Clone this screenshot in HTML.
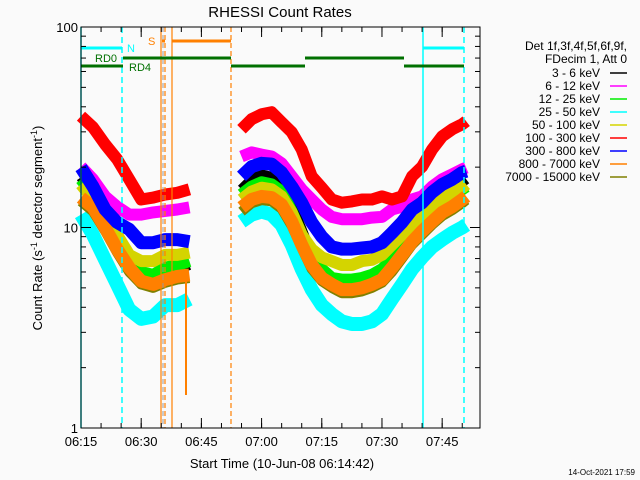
<!DOCTYPE html>
<html><head><meta charset="utf-8">
<style>
html,body{margin:0;padding:0;background:#fafafa;}
svg{display:block;font-family:"Liberation Sans",sans-serif;}
</style></head>
<body>
<svg id="chart" width="640" height="480" viewBox="0 0 640 480" xmlns="http://www.w3.org/2000/svg">
<rect x="0" y="0" width="640" height="480" fill="#fafafa"/>
<text x="280" y="17" font-size="15" text-anchor="middle" fill="#000">RHESSI Count Rates</text>
<g id="marks"></g>
<g id="annot"></g>
<g id="axes"></g>
<text transform="translate(42,228) rotate(-90)" font-size="13" text-anchor="middle" fill="#000">Count Rate (s<tspan dy="-5" font-size="9">-1</tspan><tspan dy="5"> detector segment</tspan><tspan dy="-5" font-size="9">-1</tspan><tspan dy="5">)</tspan></text>
<text x="282" y="468" font-size="13" text-anchor="middle" fill="#000">Start Time (10-Jun-08 06:14:42)</text>
<g id="legend"></g>
<text x="635" y="475" font-size="8" text-anchor="end" fill="#000">14-Oct-2021 17:59</text>
</svg>
<script>
// minutes after 06:15
const seg1Times = [0,3,6,9,12,15,18,21,24,27];
const seg2Times = [40,42.5,45,47.5,50,52.5,55,57.5,60,62.5,65,67.5,70,72.5,75,77.5,80,82.5,85,87.5,90,92.5,95,96];
const seriesNames = ["3 - 6 keV","6 - 12 keV","12 - 25 keV","25 - 50 keV","50 - 100 keV","100 - 300 keV","300 - 800 keV","800 - 7000 keV","7000 - 15000 keV"];
const seriesColors = ["#000000","#ff00ff","#00ee00","#00ffff","#d4d400","#ff0000","#0000ff","#ff8000","#808000"];
const black1 = [17.8,14.6,11.6,8.7,6.5,5.2,5.2,5.8,6.2,6.5];
const black2 = [15.5,17.4,18.4,17.9,16.4,13.0,9.8,7.3,6.2,5.5,5.3,5.3,5.5,5.6,6.0,6.8,7.8,9.2,10.3,12.0,13.8,15.5,16.8,17.4];
const magenta1 = [20.1,17.4,14.3,12.7,11.6,11.6,11.9,12.1,12.3,12.6];
const magenta2 = [22.6,23.7,23.1,22.6,20.9,18.0,15.5,13.8,12.3,11.3,11.0,11.0,11.0,11.2,11.3,12.3,12.7,13.8,14.3,16.0,17.4,18.4,19.5,19.9];
const green1 = [17.4,14.6,11.6,8.9,6.9,6.0,5.8,6.3,6.5,6.8];
const green2 = [14.6,16.0,16.8,16.4,15.1,12.0,9.2,7.1,6.2,5.6,5.5,5.5,5.6,5.8,6.2,6.9,7.8,8.9,10.0,11.3,12.7,14.1,15.5,16.0];
const cyan1 = [11.6,9.2,6.9,5.2,3.9,3.5,3.6,4.1,4.1,4.4];
const cyan2 = [10.7,11.6,12.0,11.6,10.3,8.2,6.2,4.9,4.1,3.7,3.4,3.3,3.3,3.4,3.7,4.4,5.2,6.2,7.1,8.0,8.7,9.4,10.0,10.3];
const yellow1 = [16.4,13.8,11.2,9.2,7.3,6.8,6.8,7.3,7.3,7.5];
const yellow2 = [13.8,15.1,15.8,15.5,14.3,11.9,9.2,7.8,7.1,6.8,6.5,6.5,6.8,6.9,7.3,8.2,9.2,10.3,11.6,12.7,13.8,15.0,15.8,16.4];
const red1 = [35.9,31.6,26.0,21.9,17.4,13.8,14.1,14.6,14.9,15.5];
const red2 = [30.9,34.7,36.7,37.6,33.5,29.9,24.5,18.0,15.8,13.8,13.3,13.5,13.8,13.8,14.3,13.8,14.3,18.0,20.1,24.5,28.5,30.9,32.7,33.9];
const blue1 = [19.9,16.0,12.3,10.6,9.8,8.4,8.4,8.7,8.7,8.5];
const blue2 = [18.0,20.1,20.9,20.7,18.8,16.0,13.3,10.6,9.0,8.0,7.8,7.8,7.9,8.0,8.4,9.4,10.6,12.3,13.3,15.0,16.4,17.4,18.8,19.1];
const orange1 = [14.1,12.6,10.0,7.8,6.3,5.4,5.2,5.5,5.7,5.8];
const orange2 = [12.6,13.8,14.3,14.1,13.0,10.7,8.2,6.5,5.6,5.2,4.9,4.9,5.0,5.2,5.5,6.3,7.3,8.5,9.6,10.7,11.9,12.7,13.8,14.3];
const olive1 = [13.5,12.0,9.6,7.5,6.0,5.2,5.0,5.3,5.5,5.6];
const olive2 = [12.0,13.2,13.7,13.5,12.4,10.2,7.9,6.2,5.4,5.0,4.7,4.7,4.8,5.0,5.3,6.0,7.0,8.2,9.2,10.3,11.4,12.2,13.2,13.7];
const yTickValues = [1,10,100];
const yTickLabels = ["1","10","100"];
const xTickMinutes = [0,15,30,45,60,75,90];
const xTickLabels = ["06:15","06:30","06:45","07:00","07:15","07:30","07:45"];

const NS="http://www.w3.org/2000/svg";
const X0=81, X1=480, YTOP=27, YBOT=428, PXMIN=4.013;
function xs(m){return X0+m*PXMIN;}
function ys(v){return YBOT-(YBOT-YTOP)/2*Math.log10(v);}
function mk(tag,parent){const e=document.createElementNS(NS,tag);parent.appendChild(e);return e;}
const marks=document.getElementById('marks');
const annot=document.getElementById('annot');
const axes=document.getElementById('axes');
const legend=document.getElementById('legend');

const series=[
 {i:3,a:cyan1,b:cyan2,w:14},
 {i:1,a:magenta1,b:magenta2,w:12},
 {i:0,a:black1,b:black2,w:10},
 {i:2,a:green1,b:green2,w:12},
 {i:4,a:yellow1,b:yellow2,w:12},
 {i:8,a:olive1,b:olive2,w:10},
 {i:7,a:orange1,b:orange2,w:13},
 {i:6,a:blue1,b:blue2,w:13},
 {i:5,a:red1,b:red2,w:12}
];
series.forEach(s=>{
  [[seg1Times,s.a],[seg2Times,s.b]].forEach((pair,k)=>{
    const p=mk('polyline',marks);
    p.setAttribute('points',pair[0].map((t,j)=>xs(t).toFixed(1)+','+ys(pair[1][j]).toFixed(1)).join(' '));
    p.setAttribute('fill','none');
    p.setAttribute('stroke',seriesColors[s.i]);
    p.setAttribute('stroke-width',s.w);
    p.setAttribute('stroke-linejoin','round');
    
    
  });
});

function line(x1,y1,x2,y2,c,w,dash,name,parent){
  const l=mk('line',parent||annot);
  l.setAttribute('x1',x1);l.setAttribute('y1',y1);l.setAttribute('x2',x2);l.setAttribute('y2',y2);
  l.setAttribute('stroke',c);l.setAttribute('stroke-width',w);
  if(dash)l.setAttribute('stroke-dasharray',dash);
  
  
  return l;
}
line(81,27,81,428,'#00ffff',1.5,null,'saa-start-line');
line(122,27,122,428,'#00ffff',1.5,'6,4','night-marker');
line(423,27,423,428,'#00ffff',1.5,null,'saa-line');
line(464,27,464,428,'#00ffff',1.5,'6,4','night-marker');
line(163,27,163,428,'#999',1,'5,3','gray-marker');
line(161,27,161,428,'#ff8000',1.2,null,'saa-orange-line');
line(165,27,165,428,'#ff8000',1.2,'5,3','orange-dashed-marker');
line(172,27,172,428,'#ff8000',1.2,null,'saa-orange-line');
line(231,27,231,428,'#ff8000',1.2,'5,3','orange-dashed-marker');
line(186,270,186,395,'#ff8000',2,null,'dropout-spike');
line(81,48,122,48,'#00ffff',3,null,'night-bar');
line(423,48,464,48,'#00ffff',3,null,'night-bar');
line(162,41,165,41,'#ff8000',3,null,'saa-bar');
line(172,41,231,41,'#ff8000',3,null,'saa-bar');
line(81,66,123,66,'#007000',3,null,'rd4-bar');
line(123,58,231,58,'#007000',3,null,'rd0-bar');
line(231,66,305,66,'#007000',3,null,'rd4-bar');
line(305,58,404,58,'#007000',3,null,'rd0-bar');
line(404,66,464,66,'#007000',3,null,'rd4-bar');
function txt(x,y,s,c,size,anchor,name,parent){
  const t=mk('text',parent||annot);t.setAttribute('x',x);t.setAttribute('y',y);t.textContent=s;
  t.setAttribute('fill',c);t.setAttribute('font-size',size);if(anchor)t.setAttribute('text-anchor',anchor);
  return t;
}
txt(127,52,'N','#00ffff',11,null,'night-label');
txt(148,45,'S','#ff8000',11,null,'saa-label');
txt(95,62,'RD0','#007000',11,null,'rd0-label');
txt(129,71,'RD4','#007000',11,null,'rd4-label');

const fr=mk('rect',axes);
fr.setAttribute('x',X0);fr.setAttribute('y',YTOP);fr.setAttribute('width',X1-X0);fr.setAttribute('height',YBOT-YTOP);
fr.setAttribute('fill','none');fr.setAttribute('stroke','#000');fr.setAttribute('stroke-width',1);

for(let d=0;d<2;d++){
  for(let m=2;m<=9;m++){
    const y=ys(m*Math.pow(10,d));
    line(X0,y,X0+5,y,'#000',1,null,'y-minor-tick',axes);
    line(X1,y,X1-5,y,'#000',1,null,'y-minor-tick',axes);
  }
}
yTickValues.forEach((v,i)=>{
  const y=ys(v);
  line(X0,y,X0+10,y,'#000',1,null,'y-major-tick',axes);
  line(X1,y,X1-10,y,'#000',1,null,'y-major-tick',axes);
  txt(X0-3,y+5,yTickLabels[i],'#000',13,'end','y-tick-label',axes);
});
for(let m=0;m<=98;m+=5){
  const x=xs(m);
  line(x,YBOT,x,YBOT-5,'#000',1,null,'x-minor-tick',axes);
  line(x,YTOP,x,YTOP+5,'#000',1,null,'x-minor-tick',axes);
}
xTickMinutes.forEach((m,i)=>{
  const x=xs(m);
  line(x,YBOT,x,YBOT-10,'#000',1,null,'x-major-tick',axes);
  line(x,YTOP,x,YTOP+10,'#000',1,null,'x-major-tick',axes);
  txt(x,446,xTickLabels[i],'#000',13,'middle','x-tick-label',axes);
});
txt(627,50,'Det 1f,3f,4f,5f,6f,9f,','#000',12,'end','legend-header',legend);
txt(627,63,'FDecim 1, Att 0','#000',12,'end','legend-header',legend);
seriesNames.forEach((n,i)=>{
  const y=73+i*13;
  txt(600,y+4,n,'#000',12,'end','legend-entry',legend);
  line(610,y,627,y,seriesColors[i],1.5,null,'legend-swatch',legend);
});
</script>
</body></html>
